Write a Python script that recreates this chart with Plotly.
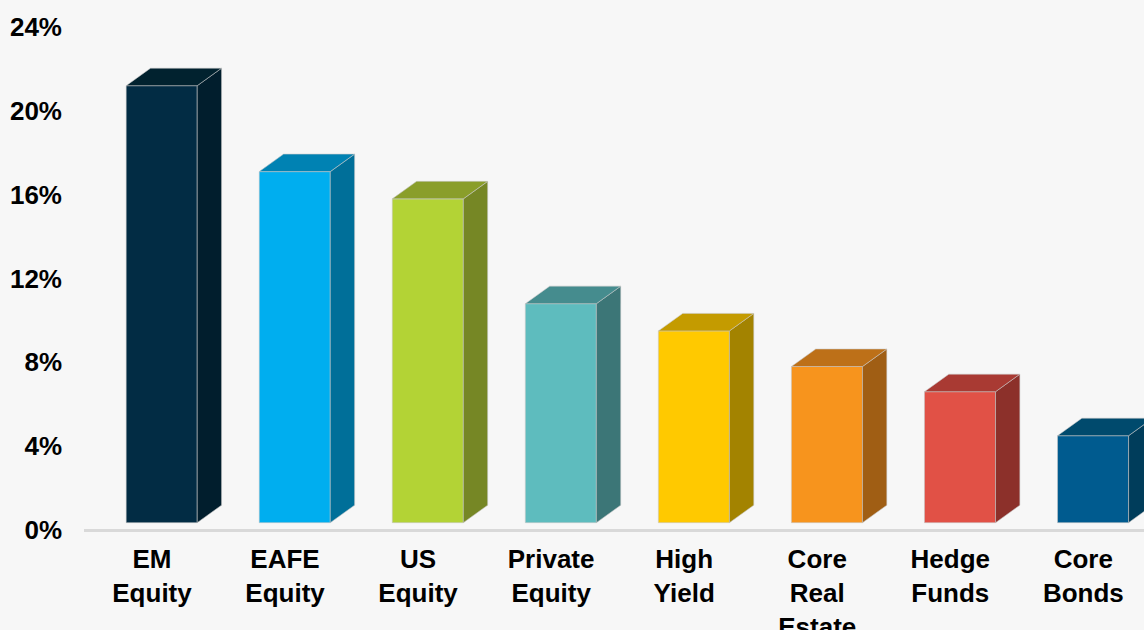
import plotly.graph_objects as go

# ---- data ----
categories = ["EM<br>Equity", "EAFE<br>Equity", "US<br>Equity", "Private<br>Equity",
              "High<br>Yield", "Core<br>Real<br>Estate", "Hedge<br>Funds", "Core<br>Bonds"]
values = [21.2, 17.1, 15.8, 10.8, 9.5, 7.8, 6.6, 4.5]
y_ticks = [0, 4, 8, 12, 16, 20, 24]
y_tick_labels = ["0%", "4%", "8%", "12%", "16%", "20%", "24%"]

front_colors = ["#022c44", "#00aeef", "#b3d335", "#5ebcbe", "#ffc900", "#f7941d", "#e15146", "#005b8f"]
top_colors = ["#01222f", "#0082b3", "#8a9e2a", "#458c8e", "#c49b00", "#bd7018", "#a93a33", "#004a6d"]
side_colors = ["#011e2d", "#006f99", "#768725", "#3c7677", "#a38300", "#a05e14", "#8c302a", "#003d5b"]

# ---- 3D style (pseudo-perspective) ----
floor = 0.35      # front face sits slightly above the floor edge
offset = -0.194   # front face left, relative to category position
width = 0.534     # front face width
dx = 0.183        # depth in x units
dy = 0.835        # depth in y units
edge = "rgba(200,200,200,0.7)"
bg = "#f7f7f7"

xs = list(range(len(categories)))

fig = go.Figure()

# front faces
fig.add_trace(go.Bar(
    x=xs, y=[v - floor for v in values], base=floor,
    width=width, offset=offset,
    marker=dict(color=front_colors, line=dict(color=edge, width=0.8)),
    hoverinfo="skip", showlegend=False,
))

# side and top faces
for i, v in enumerate(values):
    x0 = xs[i] + offset
    x1 = x0 + width
    fig.add_trace(go.Scatter(
        x=[x1, x1, x1 + dx, x1 + dx, x1],
        y=[floor, v, v + dy, floor + dy, floor],
        fill="toself", mode="lines", fillcolor=side_colors[i],
        line=dict(color=edge, width=0.8),
        hoverinfo="skip", showlegend=False,
    ))
    fig.add_trace(go.Scatter(
        x=[x0, x0 + dx, x1 + dx, x1, x0],
        y=[v, v + dy, v + dy, v, v],
        fill="toself", mode="lines", fillcolor=top_colors[i],
        line=dict(color=edge, width=0.8),
        hoverinfo="skip", showlegend=False,
    ))

font_fam = "Liberation Sans, Arial, sans-serif"
fig.update_layout(
    width=1144, height=630,
    margin=dict(l=84, r=0, t=10, b=90, autoexpand=False),
    paper_bgcolor=bg, plot_bgcolor=bg,
    showlegend=False,
    xaxis=dict(
        range=[-0.511, 7.456],
        tickvals=xs, ticktext=categories,
        tickfont=dict(family=font_fam, size=26, color="black", weight="bold"),
        showgrid=False, zeroline=False, showline=False, ticks="",
        ticklabelstandoff=1, automargin=False,
    ),
    yaxis=dict(
        range=[-0.477, 24.811],
        tickvals=y_ticks, ticktext=y_tick_labels,
        tickfont=dict(family=font_fam, size=26, color="black", weight="bold"),
        showgrid=False, showline=False, ticks="",
        zeroline=True, zerolinecolor="#d9d9d9", zerolinewidth=2.5,
        ticklabelstandoff=21, automargin=False,
    ),
)

fig.write_html(
    "out.html",
    config={"displayModeBar": False},
    post_script="document.body.style.margin='0';document.body.style.background='#f7f7f7';document.body.style.overflow='hidden';",
)
